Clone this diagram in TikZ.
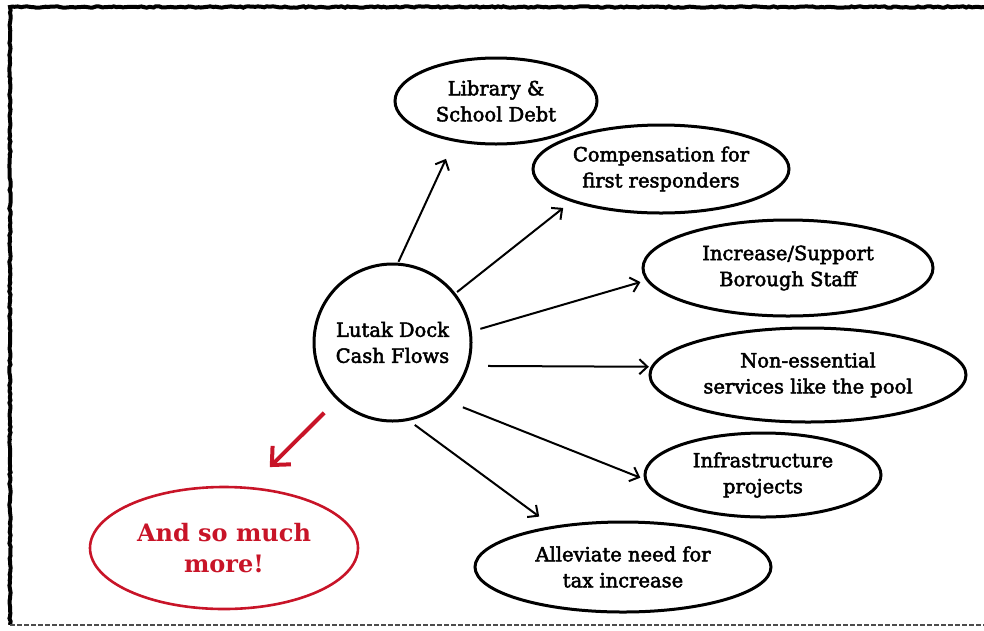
\documentclass[tikz,border=0pt]{standalone}
\usepackage{fontspec}
\setmainfont{DejaVu Serif}
\newfontfamily\slabfont[FakeBold=2.5]{DejaVu Serif}
\usetikzlibrary{arrows.meta,shapes.geometric,decorations.pathmorphing}
\definecolor{stampred}{RGB}{200,20,40}
\tikzset{
  bubble/.style={draw, ellipse, line width=3pt, inner sep=0pt, align=center,
    font=\slabfont\fontsize{19.5}{26}\selectfont},
  flow/.style={-{Straight Barb[length=8pt,width=15pt]}, line width=2pt},
  redflow/.style={-{Straight Barb[length=14pt,width=26pt]}, line width=4pt, stampred},
}
\begin{document}
\begin{tikzpicture}[x=1pt,y=-1pt]
    \useasboundingbox (0,0) rectangle (984,630);
    % rough frame
    \draw[line width=4pt, decorate, decoration={random steps,segment length=3pt,amplitude=0.7pt}] (984,7) -- (10,7) -- (10,625);
    \draw[black!70, line width=2.5pt, dash pattern=on 5pt off 2pt] (10,625) -- (984,625);

    \node[bubble, circle, minimum size=157pt] (hub) at (392.5,342.5) {Lutak Dock\\Cash Flows};
    \node[bubble, minimum width=202pt, minimum height=86pt] (lib) at (496,101) {Library \&\\School Debt};
    \node[bubble, minimum width=256pt, minimum height=88pt] (comp) at (661,169) {Compensation for\\first responders};
    \node[bubble, minimum width=290pt, minimum height=96pt] (incr) at (788,268) {Increase/Support\\Borough Staff};
    \node[bubble, minimum width=316pt, minimum height=94pt] (non) at (808,375) {Non-essential\\services like the pool};
    \node[bubble, minimum width=236pt, minimum height=84pt] (infra) at (763,475) {Infrastructure\\projects};
    \node[bubble, minimum width=296pt, minimum height=90pt] (allev) at (623,567) {Alleviate need for\\tax increase};
    \node[bubble, stampred, line width=2.6pt, minimum width=268pt, minimum height=122pt,
      font=\fontsize{24}{31}\selectfont\bfseries] (more) at (224,548) {And so much\\more!};

    \draw[flow, shorten <=1pt, shorten >=19pt] (hub.86) -- (lib.224);
    \draw[flow, shorten <=2pt, shorten >=10pt] (hub.38) -- (comp.200);
    \draw[flow, shorten <=9pt, shorten >=6pt] (hub.8) -- (incr.185);
    \draw[flow, shorten <=19pt, shorten >=2pt] (hub.-17) -- (non.177);
    \draw[flow, shorten <=17pt, shorten >=4pt] (hub.313) -- (infra.182);
    \draw[flow, shorten <=7pt, shorten >=16pt] (hub.282) -- (allev.150);
    \draw[redflow, shorten <=18pt, shorten >=28pt] (hub.226) -- (more.67);
\end{tikzpicture}
\end{document}
